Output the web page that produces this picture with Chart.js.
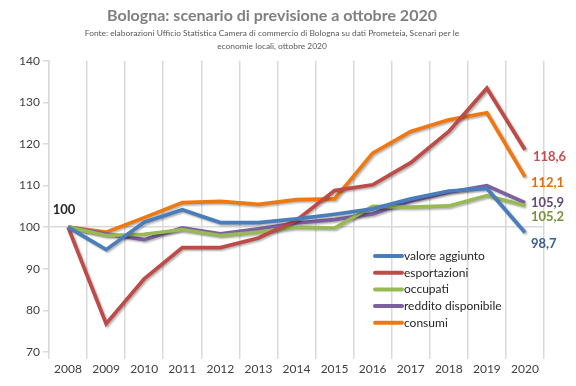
<!DOCTYPE html>
<html>
<head>
<meta charset="utf-8">
<script src="https://cdn.jsdelivr.net/npm/chart.js@4"></script>
<style>
  html, body { margin: 0; padding: 0; background: #fff; }
  #wrap { width: 576px; height: 386px; }
</style>
</head>
<body>
<div id="wrap"><canvas id="chart" width="576" height="386"></canvas></div>
<script>
var anni = ['2008', '2009', '2010', '2011', '2012', '2013', '2014', '2015', '2016', '2017', '2018', '2019', '2020'];

var valoreAggiunto = [100, 94.6, 101.2, 104.2, 101.1, 101.1, 102.0, 103.1, 104.4, 106.8, 108.7, 109.3, 98.7];
var esportazioni = [100, 76.8, 87.6, 95.1, 95.1, 97.4, 101.7, 108.8, 110.2, 115.5, 123.0, 133.4, 118.6];
var occupati = [100, 98.0, 98.3, 99.4, 98.0, 98.8, 100.0, 99.8, 105.0, 104.8, 105.1, 107.6, 105.2];
var redditoDisponibile = [100, 98.4, 97.0, 99.8, 98.4, 99.6, 101.0, 101.8, 103.2, 106.3, 108.4, 110.0, 105.9];
var consumi = [100, 98.8, 102.3, 105.9, 106.2, 105.5, 106.6, 106.8, 117.8, 123.0, 125.8, 127.5, 112.1];

var yTicks = [70, 80, 90, 100, 110, 120, 130, 140];

var FONT = 'Lato, "Open Sans", sans-serif';

// label offsets at the last point, in px (as placed in the original)
var labelOffsets = [[6, 11], [8, 7.5], [6, 11.5], [6, 0], [6, 6]];
var labelColors = ['#376092', '#C0504D', '#77933C', '#604A7B', '#E46C0A'];

function serie(label, data, color) {
  return {
    label: label,
    data: data,
    borderColor: color,
    backgroundColor: color,
    borderWidth: 3.7,
    pointRadius: 0,
    pointHoverRadius: 0,
    tension: 0,
    fill: false
  };
}

// little shadow like the excel lines
var shadowPlugin = {
  id: 'shadow',
  beforeDatasetDraw: function(chart) {
    var ctx = chart.ctx;
    ctx.save();
    ctx.shadowColor = 'rgba(0,0,0,0.3)';
    ctx.shadowBlur = 2;
    ctx.shadowOffsetX = 1.5;
    ctx.shadowOffsetY = 1.5;
  },
  afterDatasetDraw: function(chart) {
    chart.ctx.restore();
  }
};

var labelsPlugin = {
  id: 'labels',
  afterDatasetsDraw: function(chart) {
    var ctx = chart.ctx;
    ctx.save();
    ctx.font = 'bold 13px ' + FONT;
    ctx.textBaseline = 'middle';
    ctx.textAlign = 'left';
    chart.data.datasets.forEach(function(ds, i) {
      var meta = chart.getDatasetMeta(i);
      var last = meta.data[meta.data.length - 1];
      var v = ds.data[ds.data.length - 1];
      ctx.fillStyle = labelColors[i];
      ctx.fillText(v.toFixed(1).replace('.', ','), last.x + labelOffsets[i][0], last.y + labelOffsets[i][1]);
    });
    // 100 at the start
    var first = chart.getDatasetMeta(0).data[0];
    ctx.fillStyle = '#262626';
    ctx.textAlign = 'center';
    ctx.fillText(String(valoreAggiunto[0]), first.x - 4, first.y - 17);

    // legend inside the plot
    var lx = 375, ly = 256, step = 16.7;
    ctx.font = '12px ' + FONT;
    ctx.textAlign = 'left';
    chart.data.datasets.forEach(function(ds, i) {
      var y = ly + i * step;
      ctx.strokeStyle = ds.borderColor;
      ctx.lineWidth = 4;
      ctx.lineCap = 'round';
      ctx.beginPath();
      ctx.moveTo(lx, y);
      ctx.lineTo(lx + 27, y);
      ctx.stroke();
      ctx.fillStyle = '#262626';
      ctx.fillText(ds.label, lx + 29, y);
    });
    ctx.restore();
  }
};

var ctx = document.getElementById('chart').getContext('2d');
var myChart = new Chart(ctx, {
  type: 'line',
  data: {
    labels: anni,
    datasets: [
      serie('valore aggiunto', valoreAggiunto, '#4A7EBB'),
      serie('esportazioni', esportazioni, '#BE4B48'),
      serie('occupati', occupati, '#98B954'),
      serie('reddito disponibile', redditoDisponibile, '#7D60A0'),
      serie('consumi', consumi, '#F07810')
    ]
  },
  plugins: [shadowPlugin, labelsPlugin],
  options: {
    responsive: false,
    animation: false,
    layout: { padding: { left: 0, right: 32, top: 0, bottom: 0 } },
    plugins: {
      legend: { display: false },
      tooltip: { enabled: false },
      title: {
        display: true,
        text: 'Bologna: scenario di previsione a ottobre 2020',
        color: '#7F7F7F',
        font: { family: FONT, size: 16, weight: 'bold', lineHeight: 1.2 },
        padding: { top: 6, bottom: 1 }
      },
      subtitle: {
        display: true,
        text: ['Fonte: elaborazioni Ufficio Statistica Camera di commercio di Bologna su dati Prometeia, Scenari per le',
               'economie locali, ottobre 2020'],
        color: '#595959',
        font: { family: FONT, size: 8.4, lineHeight: 1.55 },
        padding: { top: 1, bottom: 7.5 }
      }
    },
    scales: {
      x: {
        offset: true,
        grid: {
          offset: true,
          color: '#D9D9D9',
          lineWidth: 1.5,
          tickLength: 7
        },
        border: { display: false },
        ticks: {
          color: '#404040',
          font: { family: FONT, size: 12 },
          padding: 3,
          maxRotation: 0
        },
        afterFit: function(scale) { scale.height = 34; }
      },
      y: {
        min: 70,
        max: 140,
        afterBuildTicks: function(scale) {
          scale.ticks = yTicks.map(function(v) { return { value: v }; });
        },
        grid: {
          color: function(c) { return c.tick && c.tick.value === 100 ? '#D9D9D9' : 'rgba(0,0,0,0)'; },
          tickColor: '#D9D9D9',
          lineWidth: 1.5,
          tickLength: 6
        },
        border: { display: true, color: '#D9D9D9', width: 1.5 },
        ticks: {
          color: '#404040',
          font: { family: FONT, size: 12 },
          padding: 3
        },
        afterFit: function(scale) { scale.width = 49; }
      }
    }
  }
});
</script>
</body>
</html>
